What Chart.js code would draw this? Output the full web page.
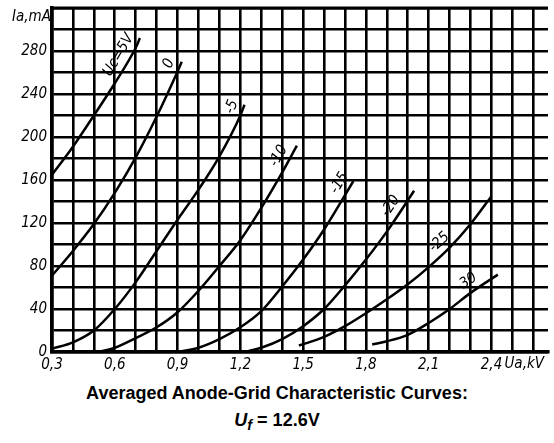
<!DOCTYPE html>
<html><head><meta charset="utf-8">
<script src="https://cdn.jsdelivr.net/npm/chart.js@4"></script>
<style>
html,body{margin:0;padding:0;background:#fff;}
#wrap{position:relative;width:554px;height:443px;overflow:hidden;}
#c{position:absolute;left:0;top:0;}
#title{position:absolute;left:0;top:380px;width:554px;text-align:center;font:bold 18px "Liberation Sans",Arial,sans-serif;line-height:27px;color:#000;}
#title .sub{font-size:0.8em;position:relative;top:0.3em;}
</style></head><body>
<div id="wrap"><canvas id="c" width="554" height="380"></canvas>
<div id="title">Averaged Anode-Grid Characteristic Curves:<br><i>U<span class="sub">f</span></i> = 12.6V</div></div>
<script>
// ---- data (Ua in kV, Ia in mA) ----
const seriesNames = ['Uc=5V', '0', '-5', '-10', '-15', '-20', '-25', '-30'];
const ua_p5  = [0.30, 0.40, 0.50, 0.60, 0.70, 0.72];
const ia_p5  = [165, 191, 220, 250, 283, 292];
const ua_0   = [0.30, 0.40, 0.50, 0.60, 0.70, 0.80, 0.90, 0.92];
const ia_0   = [71, 94, 119, 148, 181, 219, 261, 270];
const ua_m5  = [0.30, 0.40, 0.50, 0.60, 0.70, 0.80, 0.90, 1.00, 1.10, 1.20, 1.22];
const ia_m5  = [3, 9, 20, 40, 65, 94, 123, 151, 182, 220, 230];
const ua_m10 = [0.52, 0.60, 0.70, 0.80, 0.90, 1.00, 1.10, 1.20, 1.30, 1.40, 1.47];
const ia_m10 = [0, 4, 13, 23, 37, 57, 80, 104, 134, 167, 192];
const ua_m15 = [0.90, 1.00, 1.10, 1.20, 1.30, 1.40, 1.50, 1.60, 1.70, 1.74];
const ia_m15 = [0, 4, 12, 23, 38, 61, 86, 114, 146, 159];
const ua_m20 = [1.24, 1.30, 1.40, 1.50, 1.60, 1.70, 1.80, 1.90, 2.00, 2.03];
const ia_m20 = [1, 4, 12, 24, 40, 62, 86, 112, 141, 150];
const ua_m25 = [1.48, 1.60, 1.70, 1.80, 1.90, 2.00, 2.10, 2.20, 2.30, 2.40];
const ia_m25 = [6, 14, 24, 36, 49, 63, 79, 97, 119, 145];
const ua_m30 = [1.83, 1.90, 2.00, 2.10, 2.20, 2.30, 2.43];
const ia_m30 = [7, 10, 16, 27, 40, 55, 72];

const xTickValues = [0.3, 0.6, 0.9, 1.2, 1.5, 1.8, 2.1, 2.4];
const xTickLabels = ['0,3', '0,6', '0,9', '1,2', '1,5', '1,8', '2,1', '2,4'];
const yTickValues = [0, 40, 80, 120, 160, 200, 240, 280];
const yAxisName = 'Ia,mA';
const xAxisName = 'Ua,kV';
// where each curve label sits (data coordinates, label is placed beside the curve)
const labelUa = [0.62, 0.85, 1.16, 1.376, 1.683, 1.917, 2.156, 2.286];
const labelIa = [276, 269, 228, 183, 156, 136, 101, 63];

const uaSets = [ua_p5, ua_0, ua_m5, ua_m10, ua_m15, ua_m20, ua_m25, ua_m30];
const iaSets = [ia_p5, ia_0, ia_m5, ia_m10, ia_m15, ia_m20, ia_m25, ia_m30];

const FAM = '"Liberation Sans Narrow","DejaVu Sans Condensed","Roboto Condensed","Liberation Sans",sans-serif';
const tickFont = { family: FAM, style: 'italic', size: 15 };
const fontStr = (sz) => 'italic ' + sz + 'px ' + FAM;

const datasets = seriesNames.map((n, i) => ({
  label: n,
  data: uaSets[i].map((x, k) => ({ x: x, y: iaSets[i][k] })),
  borderColor: '#000', borderWidth: 2.5, pointRadius: 0,
  cubicInterpolationMode: 'monotone', fill: false
}));

function nearestOnSeg(px, py, a, b) {
  const dx = b.x - a.x, dy = b.y - a.y;
  let t = ((px - a.x) * dx + (py - a.y) * dy) / (dx * dx + dy * dy);
  t = Math.max(0, Math.min(1, t));
  const qx = a.x + t * dx, qy = a.y + t * dy;
  return { d: (px - qx) ** 2 + (py - qy) ** 2, x: qx, y: qy };
}

const decor = {
  id: 'decor',
  afterDatasetsDraw(chart) {
    const { ctx, chartArea, scales: { x, y } } = chart;
    ctx.save();
    // top border
    ctx.strokeStyle = '#000'; ctx.lineWidth = 3;
    ctx.beginPath(); ctx.moveTo(chartArea.left, chartArea.top); ctx.lineTo(chartArea.right, chartArea.top); ctx.stroke();
    // curve labels, set beside the curve, rotated along it
    ctx.fillStyle = '#000';
    ctx.font = fontStr(15);
    ctx.textAlign = 'center'; ctx.textBaseline = 'middle';
    seriesNames.forEach((name, i) => {
      const px = x.getPixelForValue(labelUa[i]), py = y.getPixelForValue(labelIa[i]);
      const pts = chart.getDatasetMeta(i).data;
      let best = null, ang = 0;
      for (let k = 0; k < pts.length - 1; k++) {
        const r = nearestOnSeg(px, py, pts[k], pts[k + 1]);
        if (!best || r.d < best.d) { best = r; ang = Math.atan2(pts[k + 1].y - pts[k].y, pts[k + 1].x - pts[k].x); }
      }
      const off = 11;
      const nx = Math.sin(ang), ny = -Math.cos(ang);
      const cx = best.x + nx * off, cy = best.y + ny * off;
      ctx.save(); ctx.translate(cx, cy); ctx.rotate(ang); ctx.fillText(name, 0, 0); ctx.restore();
    });
    // axis names
    ctx.font = fontStr(15);
    ctx.textAlign = 'left'; ctx.textBaseline = 'top';
    ctx.fillText(xAxisName, x.getPixelForValue(2.4) + 13, chartArea.bottom + 5);
    ctx.textAlign = 'right'; ctx.textBaseline = 'middle';
    ctx.fillText(yAxisName, chartArea.left - 1, chartArea.top + 9);
    ctx.restore();
  }
};

new Chart(document.getElementById('c'), {
  type: 'line',
  data: { datasets },
  options: {
    responsive: false, animation: false,
    layout: { padding: { top: 8, right: 6, left: 0, bottom: 0 } },
    plugins: { legend: { display: false }, title: { display: false }, tooltip: { enabled: false } },
    scales: {
      x: {
        type: 'linear', min: 0.3, max: 2.67,
        ticks: {
          stepSize: 0.1, includeBounds: false, autoSkip: false, maxRotation: 0, minRotation: 0,
          color: '#000', font: tickFont, padding: 4,
          callback: (v) => { const i = xTickValues.findIndex(t => Math.abs(t - v) < 1e-6); return i >= 0 ? xTickLabels[i] : ''; }
        },
        grid: { color: '#000', lineWidth: 2.6, drawTicks: false },
        border: { color: '#000', width: 3.5 },
        afterFit: (s) => { s.height = 28; s.paddingLeft = 0; s.paddingRight = 0; }
      },
      y: {
        type: 'linear', min: 0, max: 320,
        ticks: {
          stepSize: 20, autoSkip: false, color: '#000', font: tickFont, padding: 5,
          callback: (v) => yTickValues.some(t => Math.abs(t - v) < 1e-6) ? String(Math.round(v)) : ''
        },
        grid: { color: '#000', lineWidth: 2.6, drawTicks: false },
        border: { color: '#000', width: 3.5 },
        afterFit: (s) => { s.width = 52; s.paddingTop = 0; s.paddingBottom = 0; }
      }
    }
  },
  plugins: [decor]
});
</script>
</body></html>
